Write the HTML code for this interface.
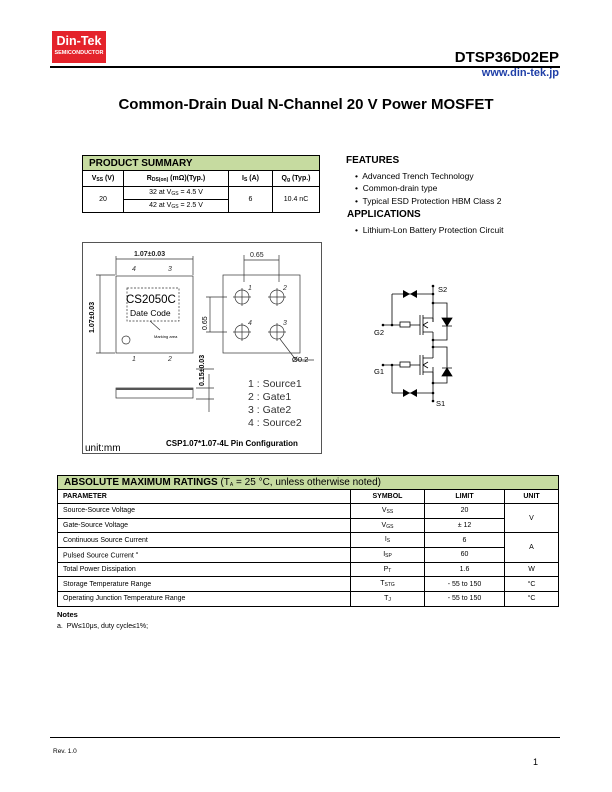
<!DOCTYPE html>
<html><head><meta charset="utf-8">
<style>
*{margin:0;padding:0;box-sizing:border-box}
body{width:612px;height:792px;background:#fff;position:relative;font-family:"Liberation Sans",Arial,sans-serif;color:#000;overflow:hidden}
.a{position:absolute;white-space:nowrap}
table{border-collapse:collapse;position:absolute}
td{border:1px solid #000;text-align:center;font-size:7px;padding:0}
.g{background:#c6dba0}
sub{font-size:5px;vertical-align:-1px}
</style></head><body>
<!-- logo -->
<div class="a" style="left:52px;top:31px;width:54px;height:32px;background:#e4232b;color:#fff;text-align:center">
 <div style="font-weight:bold;font-size:12.5px;line-height:17px;margin-top:2px">Din-Tek</div>
 <div style="font-weight:bold;font-size:5.5px;line-height:7px;background:#e4232b">SEMICONDUCTOR</div>
</div>
<div class="a" style="left:50px;top:66px;width:510px;height:1.5px;background:#000"></div>
<div class="a" style="right:53px;top:49px;font-size:15px;font-weight:bold">DTSP36D02EP</div>
<div class="a" style="right:53px;top:67px;font-size:11px;font-weight:bold;color:#1f3fa8">www.din-tek.jp</div>
<div class="a" style="left:0;width:612px;top:96px;text-align:center;font-size:15px;font-weight:bold">Common-Drain Dual N-Channel 20 V Power MOSFET</div>

<!-- product summary -->
<table style="left:82px;top:155px;width:238px">
<tr><td colspan="4" class="g" style="text-align:left;font-weight:bold;font-size:10px;height:15px;padding-left:6px">PRODUCT SUMMARY</td></tr>
<tr style="height:16px;font-weight:bold"><td style="width:41px;font-weight:bold">V<sub>SS</sub> (V)</td><td style="width:105px;font-weight:bold">R<sub>DS(on)</sub> (mΩ)(Typ.)</td><td style="width:44px;font-weight:bold">I<sub>S</sub> (A)</td><td style="font-weight:bold">Q<sub>g</sub> (Typ.)</td></tr>
<tr style="height:13px"><td rowspan="2">20</td><td>32 at V<sub>GS</sub> = 4.5 V</td><td rowspan="2">6</td><td rowspan="2">10.4 nC</td></tr>
<tr style="height:13px"><td>42 at V<sub>GS</sub> = 2.5 V</td></tr>
</table>

<!-- features -->
<div class="a" style="left:346px;top:155px;font-size:10px;font-weight:bold">FEATURES</div>
<div class="a" style="left:355px;top:170px;font-size:8.5px;line-height:12.3px">•&nbsp; Advanced Trench Technology<br>•&nbsp; Common-drain type<br>•&nbsp; Typical ESD Protection HBM Class 2</div>
<div class="a" style="left:347px;top:209px;font-size:10px;font-weight:bold">APPLICATIONS</div>
<div class="a" style="left:355px;top:225px;font-size:8.5px">•&nbsp; Lithium-Lon Battery Protection Circuit</div>

<!-- pin config -->
<div class="a" style="left:82px;top:242px;width:240px;height:212px;border:1px solid #555"></div>
<svg class="a" style="left:82px;top:242px" width="240" height="212" font-family="Liberation Sans,sans-serif">
 <g stroke="#333" fill="none" stroke-width="0.7">
  <rect x="34" y="34" width="77" height="77"/>
  <line x1="34" y1="14" x2="34" y2="33"/><line x1="111" y1="14" x2="111" y2="33"/><line x1="34" y1="17" x2="111" y2="17"/>
  <line x1="14" y1="33" x2="33" y2="33"/><line x1="14" y1="111" x2="33" y2="111"/><line x1="18" y1="33" x2="18" y2="111"/>
  <rect x="45" y="46" width="52" height="33" stroke-dasharray="2,1.5"/>
  <circle cx="44" cy="98" r="4"/>
  <line x1="68" y1="79" x2="78" y2="88"/>
  <rect x="141" y="33" width="77" height="78"/>
  <line x1="162" y1="13" x2="162" y2="40"/><line x1="197" y1="13" x2="197" y2="40"/><line x1="162" y1="18" x2="197" y2="18"/>
  <line x1="124" y1="55" x2="145" y2="55"/><line x1="124" y1="90" x2="145" y2="90"/><line x1="128" y1="55" x2="128" y2="90"/>
  <circle cx="160" cy="55" r="7"/><circle cx="195" cy="55" r="7"/><circle cx="160" cy="90" r="7"/><circle cx="195" cy="90" r="7"/>
  <path d="M151 55h18M160 46v18M186 55h18M195 46v18M151 90h18M160 81v18M186 90h18M195 81v18"/>
  <path d="M198 97 L214 118 H232"/>
  <rect x="34" y="146" width="77" height="10"/>
  <line x1="114" y1="127" x2="132" y2="127"/><line x1="114" y1="146" x2="132" y2="146"/><line x1="114" y1="157" x2="132" y2="157"/>
  <line x1="127" y1="132" x2="127" y2="170"/>
 </g>
 <rect x="34" y="146" width="77" height="2" fill="#555"/>
 <g font-size="7" fill="#222" font-weight="bold"><text x="52" y="14">1.07±0.03</text><text x="168" y="15" font-weight="normal">0.65</text></g>
 <text transform="translate(12,91) rotate(-90)" font-size="7" font-weight="bold">1.07±0.03</text>
 <text transform="translate(125,88) rotate(-90)" font-size="7">0.65</text>
 <text transform="translate(122,144) rotate(-90)" font-size="7" font-weight="bold">0.15±0.03</text>
 <g font-size="7" font-style="italic" fill="#333"><text x="50" y="29">4</text><text x="86" y="29">3</text><text x="50" y="119">1</text><text x="86" y="119">2</text>
 <text x="166" y="48">1</text><text x="201" y="48">2</text><text x="166" y="83">4</text><text x="201" y="83">3</text></g>
 <text x="44" y="61" font-size="11.5">CS2050C</text>
 <text x="48" y="74" font-size="8.5">Date Code</text>
 <text x="72" y="96" font-size="4">Marking area</text>
 <text x="210" y="120" font-size="7.5">Ø0.2</text>
 <g font-size="10.5" fill="#333"><text x="166" y="145">1 : Source1</text><text x="166" y="158">2 : Gate1</text><text x="166" y="171">3 : Gate2</text><text x="166" y="184">4 : Source2</text></g>
 <text x="84" y="204" font-size="8" font-weight="bold">CSP1.07*1.07-4L Pin Configuration</text>
 <text x="3" y="209" font-size="10">unit:mm</text>
</svg>

<!-- schematic -->
<svg class="a" style="left:360px;top:275px" width="110" height="135" font-family="Liberation Sans,sans-serif">
 <g stroke="#000" fill="none" stroke-width="0.8">
  <path d="M32 19V50H40M50 50H60M32 50H23"/>
  <path d="M32 19H73M73 11V47"/>
  <rect x="40" y="47" width="10" height="5"/>
  <path d="M60 40V60M63 40V60M63 43H73M63 57H73M73 43V47M73 57V65M73 28H87V65H73"/>
  <path d="M32 118V90H40M50 90H60M32 90H23"/>
  <path d="M32 118H73M73 126V92"/>
  <rect x="40" y="87" width="10" height="5"/>
  <path d="M60 80V100M63 80V100M63 83H73M63 97H73M73 83V72M73 97V108H87V72H73"/>
  <path d="M73 65V72"/>
 </g>
 <path d="M43 15l7 4-7 4zM57 15l-7 4 7 4z" fill="#000"/>
 <path d="M43 114l7 4-7 4zM57 114l-7 4 7 4z" fill="#000"/>
 <path d="M82 43h10l-5 8z M82 51h10" fill="#000" stroke="#000" stroke-width="0.8"/>
 <path d="M82 101h10l-5-8z M82 93h10" fill="#000" stroke="#000" stroke-width="0.8"/>
 <path d="M63 50l5-3M63 50l5 3M63 90l5-3M63 90l5 3" stroke="#000" stroke-width="0.8"/>
 <g fill="#000"><circle cx="73" cy="11" r="1.3"/><circle cx="73" cy="19" r="1.3"/><circle cx="73" cy="28" r="1.3"/><circle cx="73" cy="65" r="1.3"/><circle cx="73" cy="72" r="1.3"/><circle cx="73" cy="108" r="1.3"/><circle cx="73" cy="118" r="1.3"/><circle cx="73" cy="126" r="1.3"/><circle cx="23" cy="50" r="1.3"/><circle cx="32" cy="50" r="1.3"/><circle cx="23" cy="90" r="1.3"/><circle cx="32" cy="90" r="1.3"/></g>
 <g font-size="7.5"><text x="78" y="17">S2</text><text x="14" y="60">G2</text><text x="14" y="99">G1</text><text x="76" y="131">S1</text></g>
</svg>

<!-- AMR table -->
<table style="left:57px;top:475px;width:502px">
<tr><td colspan="4" class="g" style="text-align:left;font-size:10px;height:14px;padding-left:6px"><b>ABSOLUTE MAXIMUM RATINGS</b> (T<sub>A</sub> = 25 °C, unless otherwise noted)</td></tr>
<tr style="height:14px;font-weight:bold"><td style="width:293px;text-align:left;padding-left:5px;font-weight:bold">PARAMETER</td><td style="width:74px;font-weight:bold">SYMBOL</td><td style="width:80px;font-weight:bold">LIMIT</td><td style="font-weight:bold">UNIT</td></tr>
<tr style="height:14.7px"><td style="text-align:left;padding-left:5px">Source-Source Voltage</td><td>V<sub>SS</sub></td><td>20</td><td rowspan="2">V</td></tr>
<tr style="height:14.7px"><td style="text-align:left;padding-left:5px">Gate-Source Voltage</td><td>V<sub>GS</sub></td><td>± 12</td></tr>
<tr style="height:14.7px"><td style="text-align:left;padding-left:5px">Continuous Source Current</td><td>I<sub>S</sub></td><td>6</td><td rowspan="2">A</td></tr>
<tr style="height:14.7px"><td style="text-align:left;padding-left:5px">Pulsed Source Current <sup style="font-size:4px">a</sup></td><td>I<sub>SP</sub></td><td>60</td></tr>
<tr style="height:14.7px"><td style="text-align:left;padding-left:5px">Total Power Dissipation</td><td>P<sub>T</sub></td><td>1.6</td><td>W</td></tr>
<tr style="height:14.7px"><td style="text-align:left;padding-left:5px">Storage Temperature Range</td><td>T<sub>STG</sub></td><td>- 55 to 150</td><td>°C</td></tr>
<tr style="height:14.7px"><td style="text-align:left;padding-left:5px">Operating Junction Temperature Range</td><td>T<sub>J</sub></td><td>- 55 to 150</td><td>°C</td></tr>
</table>
<div class="a" style="left:57px;top:610px;font-size:7.5px;font-weight:bold">Notes</div>
<div class="a" style="left:57px;top:623px;font-size:7px">a.&nbsp; PW≤10μs, duty cycle≤1%;</div>

<div class="a" style="left:50px;top:737px;width:510px;height:1px;background:#000"></div>
<div class="a" style="left:53px;top:748px;font-size:6.5px">Rev. 1.0</div>
<div class="a" style="left:533px;top:757px;font-size:9px">1</div>
</body></html>
